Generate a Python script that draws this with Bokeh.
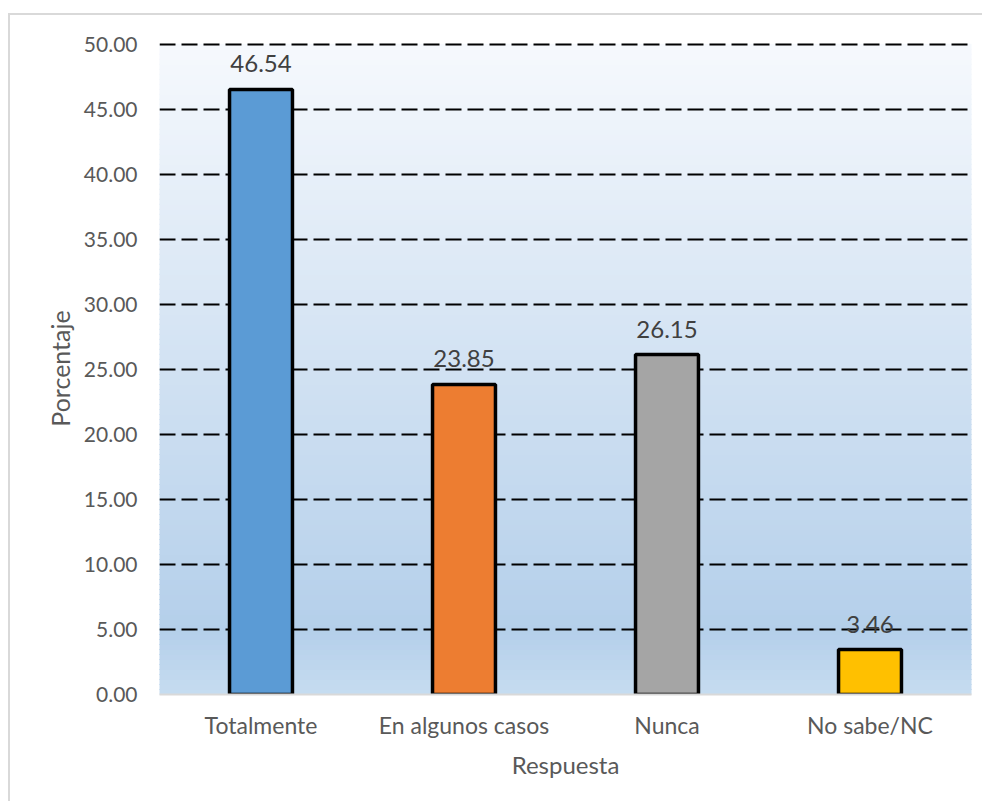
import numpy as np
from bokeh.plotting import figure
from bokeh.models import ColumnDataSource, Range1d, NumeralTickFormatter, FixedTicker
from bokeh.core.properties import value
from bokeh.embed import file_html
from bokeh.resources import INLINE

# Survey answers and their share (%)
categories = ["Totalmente", "En algunos casos", "Nunca", "No sabe/NC"]
percentages = [46.54, 23.85, 26.15, 3.46]
bar_colors = ["#5b9bd5", "#ed7d31", "#a5a5a5", "#ffc000"]
y_ticks = [0, 5, 10, 15, 20, 25, 30, 35, 40, 45, 50]

FONT = "Lato"
TICK_COLOR = "#595959"

p = figure(
    x_range=categories,
    y_range=Range1d(0, 50.15),
    width=974, height=788,
    output_backend="svg", toolbar_location=None,
    min_border_left=149, min_border_right=13,
    min_border_top=27, min_border_bottom=109,
)
p.margin = (13, 0, 0, 8)
p.styles = {"border-left": "2px solid #d9d9d9", "border-top": "2px solid #d9d9d9"}
p.outline_line_color = None
p.background_fill_color = "white"
p.border_fill_color = "white"

# Vertical gradient behind the plot area, built from thin horizontal strips
stops = [(0.0, (0xc6, 0xdc, 0xf0)), (0.10, (0xb4, 0xcf, 0xea)), (1.0, (0xf6, 0xf9, 0xfd))]
n = 130
edges = np.linspace(0, y_ticks[-1], n + 1)
strip_colors = []
for i in range(n):
    t = (edges[i] + edges[i + 1]) / 2 / y_ticks[-1]
    for (t0, c0), (t1, c1) in zip(stops[:-1], stops[1:]):
        if t0 <= t <= t1:
            f = (t - t0) / (t1 - t0)
            rgb = [round(a + (b - a) * f) for a, b in zip(c0, c1)]
            strip_colors.append("#%02x%02x%02x" % tuple(rgb))
            break
p.quad(left=-1, right=len(categories) + 1, bottom=edges[:-1], top=edges[1:],
       fill_color=strip_colors, line_color=strip_colors, line_width=1.2,
       level="image")

# Bars
src = ColumnDataSource(dict(
    cat=categories, val=percentages, color=bar_colors,
    label=["%.2f" % v for v in percentages],
))
p.vbar(x="cat", top="val", width=0.31, source=src,
       fill_color="color", line_color="black", line_width=3.5)

# Value labels above the bars
p.text(x="cat", y="val", text="label", source=src,
       text_align="center", text_baseline="bottom", y_offset=-17,
       text_font=value(FONT), text_font_size="24px", text_color="#404040")

# Grid
p.xgrid.grid_line_color = None
p.ygrid.grid_line_color = "black"
p.ygrid.grid_line_width = 2
p.ygrid.grid_line_dash = "16 6"
p.ygrid.ticker = FixedTicker(ticks=y_ticks)

# Axes
p.yaxis.ticker = FixedTicker(ticks=y_ticks)
p.yaxis.formatter = NumeralTickFormatter(format="0.00")
p.yaxis.axis_line_color = None
p.yaxis.major_tick_line_color = None
p.yaxis.minor_tick_line_color = None
p.yaxis.major_label_standoff = 16
p.yaxis.axis_label = "Porcentaje"
p.yaxis.axis_label_standoff = 6

p.xaxis.axis_line_color = "#d9d9d9"
p.xaxis.axis_line_width = 2
p.xaxis.major_tick_line_color = None
p.xaxis.minor_tick_line_color = None
p.xaxis.major_label_standoff = 10
p.xaxis.axis_label = "Respuesta"
p.xaxis.axis_label_standoff = 8

for ax in (p.xaxis[0], p.yaxis[0]):
    ax.major_label_text_font = FONT
    ax.major_label_text_color = TICK_COLOR
    ax.axis_label_text_font = FONT
    ax.axis_label_text_font_style = "normal"
    ax.axis_label_text_color = TICK_COLOR
p.yaxis.major_label_text_font_size = "21px"
p.xaxis.major_label_text_font_size = "23px"
p.yaxis.axis_label_text_font_size = "25px"
p.xaxis.axis_label_text_font_size = "24px"

open("out.html", "w").write(file_html(p, INLINE))
